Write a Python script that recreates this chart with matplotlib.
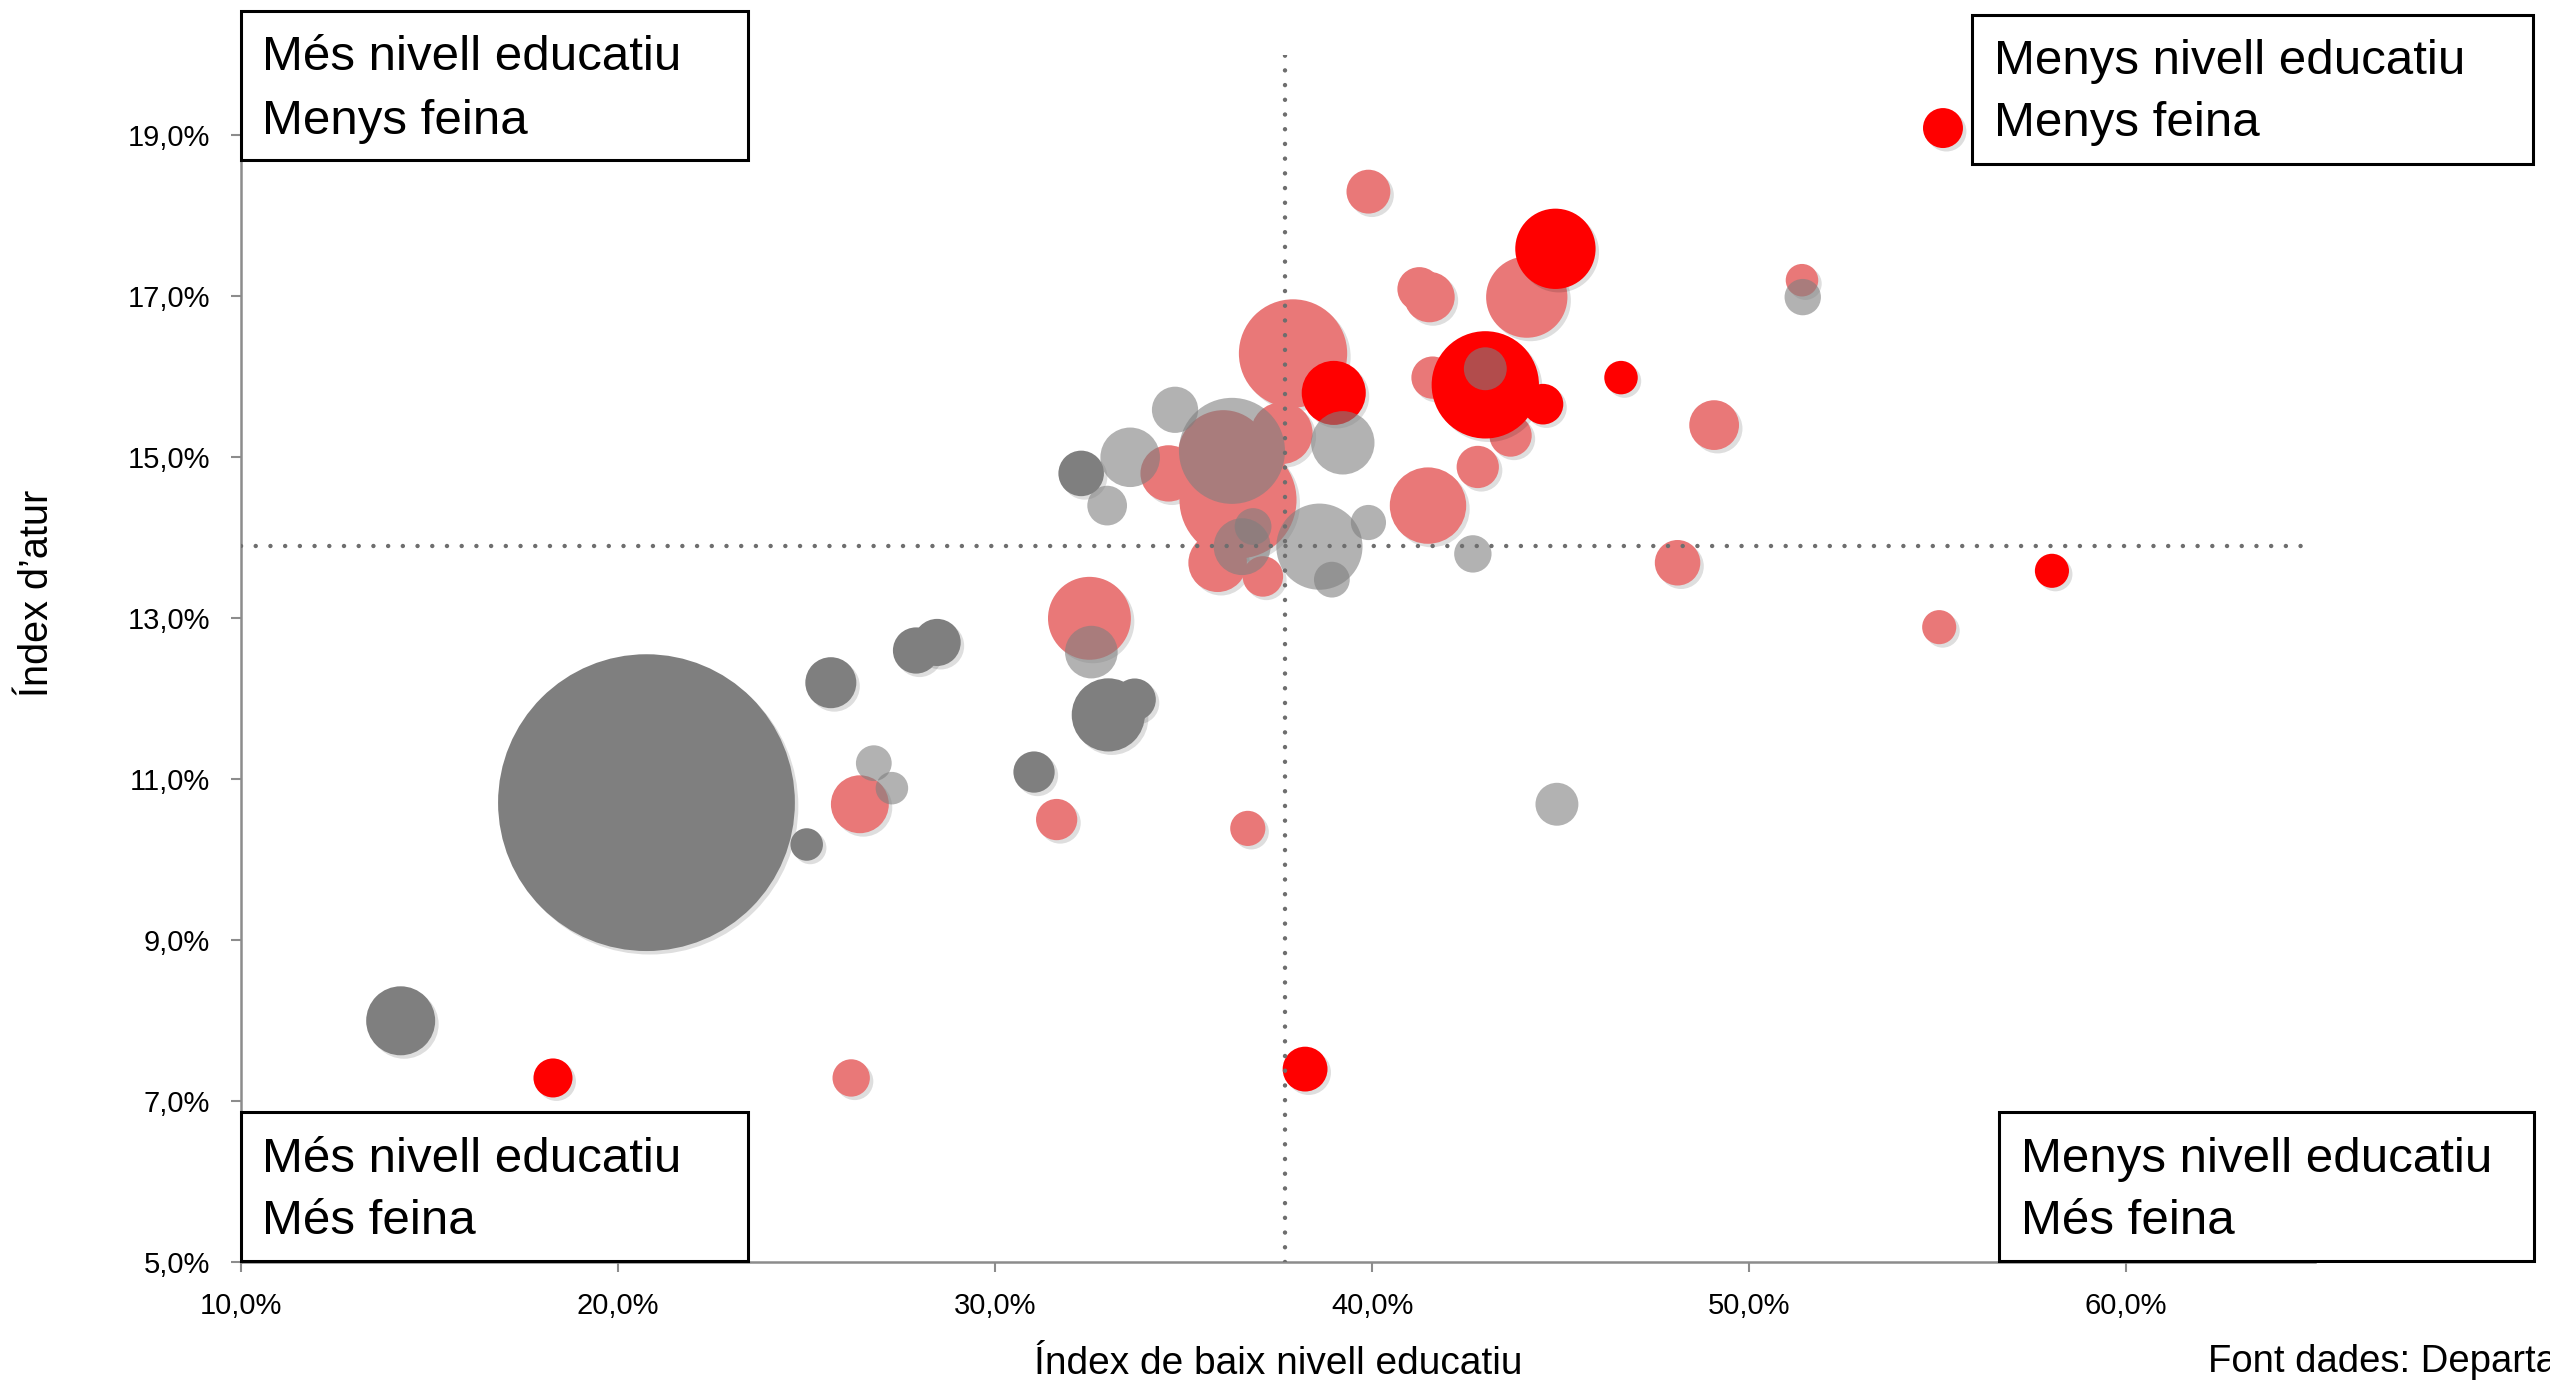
import matplotlib
matplotlib.use("Agg")
import matplotlib.pyplot as plt
import matplotlib.patheffects as pe
from matplotlib.patches import Rectangle
from matplotlib.ticker import FuncFormatter, FixedLocator
import numpy as np

# ---------------- DATA ----------------
# Dark grey series
gris_fosc_x = [20.75, 14.23, 25.64, 27.90, 28.46, 25.00, 31.03, 32.28, 33.00, 33.70]
gris_fosc_y = [10.71, 8.00, 12.20, 12.60, 12.70, 10.19, 11.09, 14.80, 11.80, 11.99]
gris_fosc_pes = [8330, 450, 246, 202, 210, 100, 161, 196, 506, 169]

# Light grey (semi-transparent) series
gris_clar_x = [36.28, 34.77, 33.58, 32.97, 32.55, 26.78, 27.26, 38.60, 38.93, 39.90,
               39.22, 42.67, 43.00, 51.42, 44.90, 36.55, 36.84]
gris_clar_y = [15.08, 15.59, 15.00, 14.40, 12.58, 11.20, 10.89, 13.89, 13.48, 14.19,
               15.18, 13.80, 16.10, 16.99, 10.69, 13.89, 14.14]
gris_clar_pes = [1063, 202, 335, 149, 262, 121, 100, 702, 121, 117,
                 380, 132, 174, 125, 174, 306, 128]

# Pink series
rosa_x = [39.90, 41.25, 41.52, 44.10, 37.90, 37.60, 36.44, 34.60, 35.90, 37.10,
          41.48, 42.80, 43.67, 41.60, 49.07, 48.10, 51.40, 55.04, 31.63, 36.70,
          26.41, 26.18, 32.50, 36.05]
rosa_y = [18.30, 17.09, 16.99, 16.99, 16.29, 15.30, 14.47, 14.80, 13.69, 13.52,
          14.40, 14.88, 15.27, 15.99, 15.40, 13.69, 17.20, 12.89, 10.50, 10.39,
          10.69, 7.29, 13.00, 15.02]
rosa_pes = [182, 182, 240, 625, 1109, 361, 1296, 300, 324, 155,
            552, 169, 169, 169, 234, 196, 100, 110, 161, 117,
            317, 132, 650, 784]

# Bright red series
vermell_x = [44.86, 43.00, 44.53, 46.60, 38.98, 58.03, 38.22, 18.27, 55.14]
vermell_y = [17.59, 15.90, 15.66, 15.99, 15.80, 13.59, 7.40, 7.29, 19.09]
vermell_pes = [610, 1089, 156, 106, 388, 110, 190, 144, 151]

# Reference (average) lines
mitjana_x = 37.7
mitjana_y = 13.9

x_ticks = [10, 20, 30, 40, 50, 60]
y_ticks = [5, 7, 9, 11, 13, 15, 17, 19]

quadrants = [
    ("Més nivell educatiu", "Menys feina"),
    ("Menys nivell educatiu", "Menys feina"),
    ("Més nivell educatiu", "Més feina"),
    ("Menys nivell educatiu", "Més feina"),
]
x_label = "Índex de baix nivell educatiu"
y_label = "Índex d\u2019atur"
font_text = "Font dades: Departament d'Ensenyament"

# ---------------- FIGURE ----------------
W, H = 2550, 1384
fig = plt.figure(figsize=(W / 100, H / 100), dpi=100)


def fx(px):
    return px / W


def fy(py):
    return 1 - py / H


ax = fig.add_axes([fx(241.2), fy(1262.3), (2314.7 - 241.2) / W, (1262.3 - 54.8) / H])
ax.set_xlim(10, 65)
ax.set_ylim(5, 20)

# bubble area scaling: value -> points^2
K = (2 * 1.626 * 0.72) ** 2

shadow = [pe.SimplePatchShadow(offset=(2.5, -2.5), shadow_rgbFace="black", alpha=0.13), pe.Normal()]

ax.scatter(gris_fosc_x, gris_fosc_y, s=np.array(gris_fosc_pes) * K, color="#7f7f7f",
           linewidths=0, zorder=2, path_effects=shadow)
ax.scatter(rosa_x, rosa_y, s=np.array(rosa_pes) * K, color="#e97878",
           linewidths=0, zorder=3, path_effects=shadow)
ax.scatter(vermell_x, vermell_y, s=np.array(vermell_pes) * K, color="#ff0000",
           linewidths=0, zorder=4, path_effects=shadow)
ax.scatter(gris_clar_x, gris_clar_y, s=np.array(gris_clar_pes) * K, color="#7f7f7f",
           alpha=0.6, linewidths=0, zorder=5)

# dotted average lines
dot_style = dict(color="#6e6e6e", lw=3.2, linestyle=(0, (0.01, 3.3)),
                 dash_capstyle="round", zorder=10)
ax.plot([mitjana_x, mitjana_x], [5, 20], **dot_style)
ax.plot([10, 65], [mitjana_y, mitjana_y], **dot_style)

# spines / ticks
for s in ["top", "right"]:
    ax.spines[s].set_visible(False)
for s in ["left", "bottom"]:
    ax.spines[s].set_color("#8c8c8c")
    ax.spines[s].set_linewidth(1.8)

ax.xaxis.set_major_locator(FixedLocator(x_ticks))
ax.yaxis.set_major_locator(FixedLocator(y_ticks))
fmt = FuncFormatter(lambda v, _: f"{v:.1f}".replace(".", ",") + "%")
ax.xaxis.set_major_formatter(fmt)
ax.yaxis.set_major_formatter(fmt)

tick_font = ["Liberation Sans", "DejaVu Sans"]
ax.tick_params(axis="both", direction="out", length=7.5, width=1.5, color="#8c8c8c",
               labelsize=21, labelcolor="black")
ax.tick_params(axis="y", pad=15)
ax.tick_params(axis="x", pad=14)
for lab in ax.get_xticklabels() + ax.get_yticklabels():
    lab.set_family(tick_font)

# axis labels
txt_font = ["Liberation Sans", "DejaVu Sans"]
fig.text(fx(1278), fy(1374), x_label, ha="center", va="baseline", fontsize=28,
         family=txt_font)
fig.text(fx(2208), fy(1372), font_text, ha="left", va="baseline", fontsize=27.5,
         family=txt_font)
fig.text(fx(37), fy(593), y_label, ha="center", va="center", rotation=90,
         fontsize=28.5, family=txt_font)

# quadrant boxes
boxes = [
    (241, 11, 748, 160, 262, 70.5, 134),
    (1972, 15, 2533, 164, 1994, 73.7, 136),
    (241, 1112, 748, 1261, 262, 1171.5, 1234),
    (1999, 1112, 2534, 1261, 2021, 1171.5, 1234),
]
for (x0, y0, x1, y1, tx, b1, b2), (l1, l2) in zip(boxes, quadrants):
    r = Rectangle((fx(x0), fy(y1)), fx(x1) - fx(x0), fy(y0) - fy(y1),
                  transform=fig.transFigure, facecolor="white", edgecolor="black",
                  linewidth=2.2, zorder=20)
    fig.add_artist(r)
    fig.text(fx(tx), fy(b1), l1, ha="left", va="baseline", fontsize=35.5,
             family=txt_font, zorder=21)
    fig.text(fx(tx), fy(b2), l2, ha="left", va="baseline", fontsize=35.5,
             family=txt_font, zorder=21)

fig.savefig("out.png", dpi=100)
